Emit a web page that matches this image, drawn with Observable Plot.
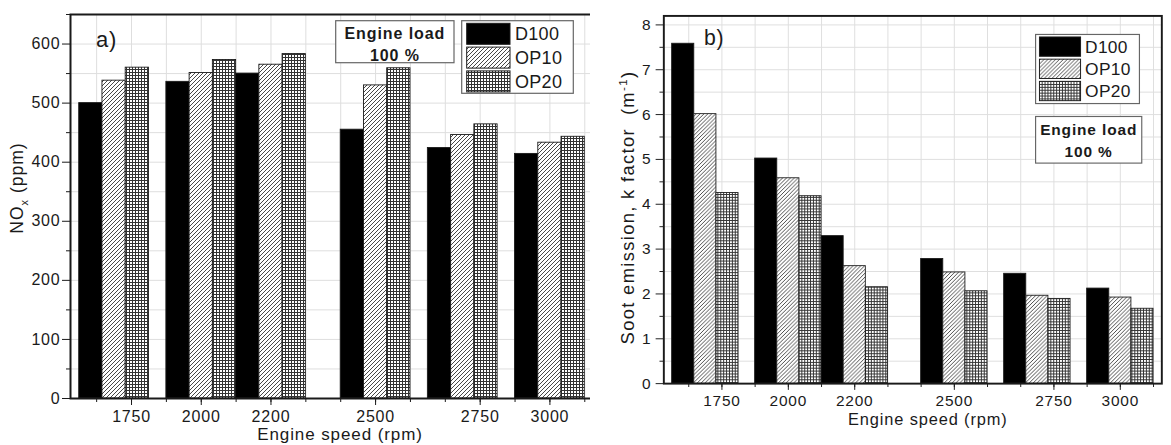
<!DOCTYPE html>
<html>
<head>
<meta charset="utf-8">
<script src="https://cdn.jsdelivr.net/npm/d3@7"></script>
<script src="https://cdn.jsdelivr.net/npm/@observablehq/plot@0.6"></script>
<style>
html, body { margin: 0; padding: 0; background: #fff; overflow: hidden; width: 1171px; height: 445px; }
#wrap { position: relative; width: 1171px; height: 445px; overflow: hidden; background: #fff; }
#a { position: absolute; left: 0; top: 0; }
#b { position: absolute; left: 590px; top: 0; }
#wrap svg text { font-family: "Liberation Sans", Arial, sans-serif; letter-spacing: 0.8px; }
</style>
</head>
<body>
<svg width="0" height="0" style="position:absolute">
  <defs>
    <pattern id="hatch" patternUnits="userSpaceOnUse" width="4" height="4">
      <rect width="4" height="4" fill="#fff"/>
      <path d="M-1,1 l2,-2 M0,4 l4,-4 M3,5 l2,-2" stroke="#333" stroke-width="0.9"/>
    </pattern>
    <pattern id="cross" patternUnits="userSpaceOnUse" width="3" height="3">
      <rect width="3" height="3" fill="#fff"/>
      <rect x="0" y="0" width="3" height="1" fill="#333"/>
      <rect x="0" y="0" width="1" height="3" fill="#333"/>
    </pattern>
  </defs>
</svg>
<div id="wrap"><div id="a"></div><div id="b"></div></div>
<script>
// ---- data ----
const rpm = [1750, 2000, 2200, 2500, 2750, 3000];
const fuels = ["D100", "OP10", "OP20"];
const noxD100 = [500, 536, 550, 455, 424, 414];
const noxOP10 = [538, 551, 565, 530, 446, 433];
const noxOP20 = [560, 573, 583, 559, 464, 443];
const sootD100 = [7.58, 5.02, 3.29, 2.78, 2.45, 2.12];
const sootOP10 = [6.01, 4.58, 2.62, 2.48, 1.96, 1.92];
const sootOP20 = [4.25, 4.18, 2.15, 2.06, 1.89, 1.67];
const tickPos = [1800, 2000, 2200, 2500, 2800, 3000];
const tickText = ["1750", "2000", "2200", "2500", "2750", "3000"];

// ---- build tables ----
function makeData(vals) {
  return rpm.flatMap((r, i) => fuels.map((f, j) => ({rpm: r, fuel: f, j, value: vals[j][i]})));
}
const noxData = makeData([noxD100, noxOP10, noxOP20]);
const sootData = makeData([sootD100, sootOP10, sootOP20]);

const groupWidth = 200;
const bx1 = d => d.rpm - groupWidth / 2 + d.j * groupWidth / 3;
const bx2 = d => d.rpm - groupWidth / 2 + (d.j + 1) * groupWidth / 3;
const xMinor = d3.range(1700, 3101, 100);
const fills = ["#000", "url(#hatch)", "url(#cross)"];
const FONT = '"Liberation Sans", Arial, sans-serif';

function panel(o) {
  return Plot.plot({
    width: o.width, height: 445,
    marginLeft: o.ml, marginRight: o.mr, marginTop: o.mt, marginBottom: o.mb,
    style: {fontFamily: FONT, fontSize: "16px", color: "#1a1a1a", background: "#fff", overflow: "visible"},
    x: {domain: [1625, 3125]},
    y: {domain: o.yDomain},
    color: {domain: fuels, range: fills},
    marks: [
      Plot.gridY(o.yGrid, {stroke: "#dedede", strokeOpacity: 1}),
      Plot.gridX(xMinor, {stroke: "#dedede", strokeOpacity: 1}),
      Plot.rect(o.data, {x1: bx1, x2: bx2, y1: () => 0, y2: "value", fill: "fuel", stroke: "#1a1a1a", strokeWidth: 0.9}),
      Plot.axisY(o.yMinor, {tickSize: 4, tickFormat: () => "", label: null}),
      Plot.axisY(o.yMajor, {tickSize: 8, tickPadding: o.yPad, label: null, fontSize: 16}),
      Plot.axisX(xMinor, {tickSize: 4, tickFormat: () => "", label: null}),
      Plot.axisX(tickPos, {tickSize: 7, tickPadding: o.xPad, label: null, fontSize: 16,
        tickFormat: d => tickText[tickPos.indexOf(d)]}),
      Plot.frame({stroke: "#1a1a1a", strokeWidth: 2})
    ]
  });
}

function legend(g, L) {
  g.append("rect").attr("x", L.x).attr("y", L.y).attr("width", L.w).attr("height", L.h)
    .attr("fill", "#fff").attr("stroke", "#666").attr("stroke-width", 1.2);
  fuels.forEach((f, i) => {
    const sy = L.sy + i * L.step;
    g.append("rect").attr("x", L.sx).attr("y", sy).attr("width", L.sw).attr("height", L.sh)
      .attr("fill", fills[i]).attr("stroke", "#1a1a1a").attr("stroke-width", 1);
    g.append("text").attr("x", L.tx).attr("y", sy + L.sh / 2 + 6.5).attr("text-anchor", "start")
      .attr("font-size", 18).style("letter-spacing", "0.3px").attr("fill", "#1a1a1a").text(f);
  });
}
function loadBox(g, B) {
  g.append("rect").attr("x", B.x).attr("y", B.y).attr("width", B.w).attr("height", B.h)
    .attr("fill", "#fff").attr("stroke", "#666").attr("stroke-width", 1.2);
  const t = g.append("text").attr("text-anchor", "middle").attr("font-size", 16)
    .attr("font-weight", "bold").style("letter-spacing", "0.9px").attr("fill", "#1a1a1a");
  t.append("tspan").attr("x", B.x + B.w / 2).attr("y", B.b1).text("Engine load");
  t.append("tspan").attr("x", B.x + B.w / 2).attr("y", B.b2).text("100 %");
}

// ---- panel a ----
const svgA = panel({
  width: 600, ml: 70, mr: 7, mt: 14, mb: 47,
  yDomain: [0, 650], data: noxData,
  yGrid: d3.range(0, 651, 50), yMinor: d3.range(50, 651, 100), yMajor: d3.range(0, 601, 100),
  yPad: 2, xPad: 5
});
document.getElementById("a").appendChild(svgA);
{
  const g = d3.select(svgA).append("g").attr("font-family", FONT);
  g.append("text").attr("x", 96).attr("y", 47).attr("text-anchor", "start").attr("font-size", 22).attr("fill", "#1a1a1a").text("a)");
  loadBox(g, {x: 335.7, y: 20.7, w: 118.3, h: 42, b1: 38.5, b2: 61});
  legend(g, {x: 461.7, y: 20.7, w: 111.6, h: 72.6, sx: 466.7, sy: 23.3, sw: 43.3, sh: 21, step: 23.8, tx: 515});
  g.append("text").attr("x", 340).attr("y", 440).attr("text-anchor", "middle").attr("font-size", 17)
    .style("letter-spacing", "0.9px").attr("fill", "#1a1a1a").text("Engine speed (rpm)");
  const yt = g.append("text").attr("transform", "translate(23,188) rotate(-90)").attr("text-anchor", "middle")
    .attr("font-size", 17.5).style("letter-spacing", "1px").attr("fill", "#1a1a1a");
  yt.append("tspan").text("NO");
  yt.append("tspan").attr("dy", 5).attr("font-size", 11).text("x");
  yt.append("tspan").attr("dy", -5).text(" (ppm)");
}

// ---- panel b ----
const svgB = panel({
  width: 602, ml: 76, mr: 10, mt: 16, mb: 48,
  yDomain: [0, 8.2], data: sootData,
  yGrid: d3.range(0, 8.01, 0.5), yMinor: d3.range(0.5, 8.01, 1), yMajor: d3.range(0, 8.01, 1),
  yPad: 5, xPad: 5
});
document.getElementById("b").appendChild(svgB);
{
  const g = d3.select(svgB).append("g").attr("font-family", FONT);
  g.append("text").attr("x", 118).attr("y", 47).attr("text-anchor", "start").attr("font-size", 22).attr("fill", "#1a1a1a").text("b)");
  legend(g, {x: 461.7, y: 35.7, w: 107.6, h: 71.6, sx: 465.7, sy: 38.3, sw: 42.6, sh: 20, step: 23, tx: 513});
  loadBox(g, {x: 461.7, y: 120.7, w: 110, h: 48.3, b1: 140, b2: 163});
  g.append("text").attr("x", 350).attr("y", 440).attr("text-anchor", "middle").attr("font-size", 17)
    .style("letter-spacing", "0.9px").attr("fill", "#1a1a1a").text("Engine speed (rpm)");
  const yt = g.append("text").attr("transform", "translate(46,215) rotate(-90)").attr("text-anchor", "middle")
    .attr("font-size", 19).style("letter-spacing", "1.4px").attr("fill", "#1a1a1a");
  yt.append("tspan").text("Soot emission, k factor\u00a0\u00a0(m");
  yt.append("tspan").attr("dy", -8).attr("font-size", 12).text("-1");
  yt.append("tspan").attr("dy", 8).text(")");
}
</script>
</body>
</html>
